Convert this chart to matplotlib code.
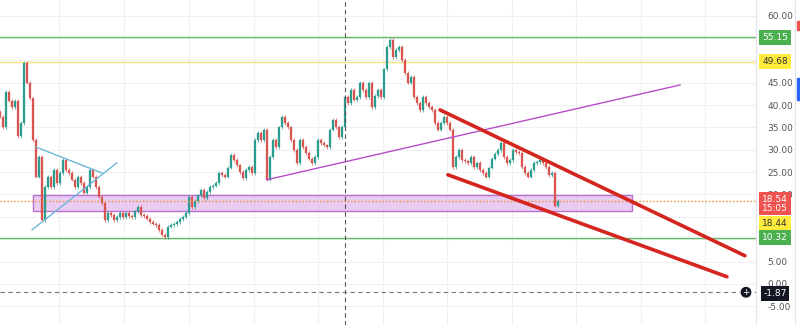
import matplotlib.pyplot as plt
from matplotlib.patches import Rectangle

# ---------------------------------------------------------
# DATA (closes, one bar every ~3 px)
# ---------------------------------------------------------
closes = [
    37.4, 35.1, 43.0, 41.0, 39.6, 41.0, 33.0, 36.0, 49.4, 45.0,
    41.5, 32.2, 24.0, 28.4, 14.3, 21.7, 24.0, 21.7, 25.5, 22.6,
    24.8, 27.7, 25.5,
    24.8, 23.3, 21.7, 24.0, 22.5, 20.4, 21.7, 25.5, 24.0, 21.7,
    19.5, 18.1, 14.3, 15.9, 15.4, 14.3, 15.0, 15.9, 15.0, 15.9,
    15.2, 15.0, 16.2, 17.2, 15.4, 15.2, 14.6, 13.9, 13.5, 13.2,
    12.0, 11.0, 10.5, 12.8, 13.2, 13.4, 13.9, 14.5, 15.0, 15.9,
    19.5, 17.2, 18.5, 19.8, 21.0, 19.2, 20.5, 21.7, 22.0, 22.6,
    24.8, 24.3, 24.0, 26.0, 28.9, 27.7, 26.5, 25.0, 23.7, 25.5,
    26.2, 24.8, 32.2, 33.8, 32.2, 34.5, 23.3, 28.4, 32.2, 30.6,
    35.0, 37.4, 36.0, 35.0, 32.2, 30.0, 27.0, 32.2, 30.6, 29.3,
    28.0, 27.0, 28.4, 32.2, 31.5, 31.0, 30.6, 34.5, 36.7, 35.1,
    32.9, 35.1, 41.8, 40.5, 43.4, 41.2, 41.8, 44.9, 43.4, 41.8,
    44.9, 39.6, 42.0, 43.4, 41.8, 48.0, 53.0, 54.6, 50.8, 52.3,
    53.0, 50.1, 47.2, 45.0, 46.3, 41.8, 40.5, 38.9, 41.8, 40.5,
    39.6, 38.9, 36.0, 34.5, 36.0, 37.4, 36.0, 34.5, 26.2, 28.4,
    30.0, 27.7, 27.5, 27.0, 28.4, 26.2, 27.0, 25.5, 24.8, 24.0,
    26.0, 28.0, 29.0, 30.0, 31.5, 28.4, 27.0, 27.7, 30.0, 29.5,
    29.3, 26.2, 24.8, 24.0, 25.5, 27.0, 27.3, 27.7, 27.0, 26.2,
    24.4, 24.8, 17.5, 18.54,
]
first_open = 38.5

# horizontal levels
level_values = [55.15, 49.68, 10.32]
level_colors = ["#66bb6a", "#f5e27c", "#66bb6a"]
last_price = 18.54
crosshair_bar = 115
crosshair_price = -1.87

# drawings: (x0, y0, x1, y1) in bar index / price
blue_lines = [(12, 30.6, 34, 24.8), (10.7, 12.1, 39, 27.1)]
purple_line = (89, 23.3, 226.7, 44.5)
red_lines = [(146.7, 38.9, 248.3, 6.3), (149.3, 24.4, 242.3, 1.6)]
zone = (11, 16.2, 210.7, 19.8)  # x0, y0, x1, y1

y_ticks = [-5, 0, 5, 10, 15, 20, 25, 30, 35, 40, 45, 50, 55, 60]
hidden_ticks = [10, 15, 50, 55]   # covered by the level badges
v_grid = [19.7, 41.3, 63, 84.7, 106, 127.7, 149, 170.7, 192, 213.7, 235]

# badges on the price scale: (text, price, face, text colour)
badges = [
    ("55.15", 55.15, "#4caf50", "white"),
    ("49.68", 49.68, "#ffeb3b", "#333333"),
    ("18.44", 13.4, "#ffeb3b", "#333333"),
    ("10.32", 10.32, "#4caf50", "white"),
]

UP = "#2a9d8f"
DOWN = "#d9534f"

# ---------------------------------------------------------
# FIGURE
# ---------------------------------------------------------
fig = plt.figure(figsize=(8, 3.25), dpi=100)
ax = fig.add_axes([0, 0, 756 / 800, 1])
ax.set_xlim(0, 252)
ax.set_ylim(-9.2, 63.5)

for t in y_ticks:
    ax.axhline(t, color="#eef0f4", lw=0.8, zorder=0)
for g in v_grid:
    ax.axvline(g, color="#eef0f4", lw=0.8, zorder=0)

# candles
opens = [first_open] + closes[:-1]
for i, (o, c) in enumerate(zip(opens, closes)):
    col = UP if c >= o else DOWN
    ax.vlines(i, min(o, c) - 0.4, max(o, c) + 0.4, color=col, lw=0.5, zorder=3)
    ax.bar(i, max(abs(c - o), 0.15), bottom=min(o, c),
           width=0.55, color=col, edgecolor=col, lw=0.2, zorder=3)

# levels
for v, col in zip(level_values, level_colors):
    ax.axhline(v, color=col, lw=1.0, zorder=2)
ax.axhline(last_price, color="#f08a24", lw=1.0, ls=(0, (1, 1.5)), zorder=4)

# zone
x0, y0, x1, y1 = zone
ax.add_patch(Rectangle((x0, y0), x1 - x0, y1 - y0, facecolor="#e6c3ef",
                       edgecolor="#b15cc8", lw=1.0, alpha=0.85, zorder=1))

# trend lines
for x0, y0, x1, y1 in blue_lines:
    ax.plot([x0, x1], [y0, y1], color="#6fb7da", lw=1.0, zorder=5)
x0, y0, x1, y1 = purple_line
ax.plot([x0, x1], [y0, y1], color="#b84cc8", lw=1.0, zorder=5)
for x0, y0, x1, y1 in red_lines:
    ax.plot([x0, x1], [y0, y1], color="#d4261e", lw=2.6, zorder=6,
            solid_capstyle="round")

# crosshair
ax.axvline(crosshair_bar, color="#555555", lw=0.8, ls=(0, (4, 3)), zorder=7)
ax.axhline(crosshair_price, color="#777777", lw=0.8, ls=(0, (4, 3)), zorder=7)

# price scale
ax.yaxis.tick_right()
ax.set_yticks(y_ticks)
ax.set_yticklabels(["" if t in hidden_ticks else f"{t:.2f}" for t in y_ticks],
                   fontsize=6.5, color="#555555")
ax.tick_params(axis="y", length=0, pad=8)
ax.set_xticks([])
for s in ["top", "left", "bottom"]:
    ax.spines[s].set_visible(False)
ax.spines["right"].set_color("#e0e3eb")
ax.spines["right"].set_linewidth(0.8)


def to_fig_y(p):
    return ax.transData.transform((0, p))[1] / fig.bbox.height


for txt, p, face, tc in badges:
    fig.text(775 / 800, to_fig_y(p), txt, ha="center", va="center",
             fontsize=6.5, color=tc, zorder=10,
             bbox=dict(boxstyle="square,pad=0.35", fc=face, ec="none"))

fig.text(775 / 800, to_fig_y(last_price) - 0.008, "18.54\n15:05", ha="center",
         va="center", fontsize=6.5, color="white", linespacing=1.0, zorder=10,
         bbox=dict(boxstyle="square,pad=0.3", fc="#ef5350", ec="none"))
fig.text(775 / 800, to_fig_y(crosshair_price) - 0.004, "-1.87", ha="center",
         va="center", fontsize=6.5, color="white", zorder=10,
         bbox=dict(boxstyle="square,pad=0.3", fc="#131722", ec="none"))
fig.text(746 / 800, to_fig_y(crosshair_price), "+", ha="center", va="center",
         fontsize=6.5, color="white", zorder=10,
         bbox=dict(boxstyle="circle,pad=0.15", fc="#131722", ec="white", lw=0.6))

# right toolbar strip
fig.add_artist(plt.Line2D([795 / 800, 795 / 800], [0, 1], color="#e0e3eb", lw=0.8))
fig.add_artist(Rectangle((797 / 800, 1 - 30 / 325), 3 / 800, 9 / 325,
                         color="#ef5350", transform=fig.transFigure))
fig.add_artist(Rectangle((797 / 800, 1 - 100 / 325), 3 / 800, 22 / 325,
                         color="#2962ff", transform=fig.transFigure))

fig.savefig("out.png", dpi=100)
